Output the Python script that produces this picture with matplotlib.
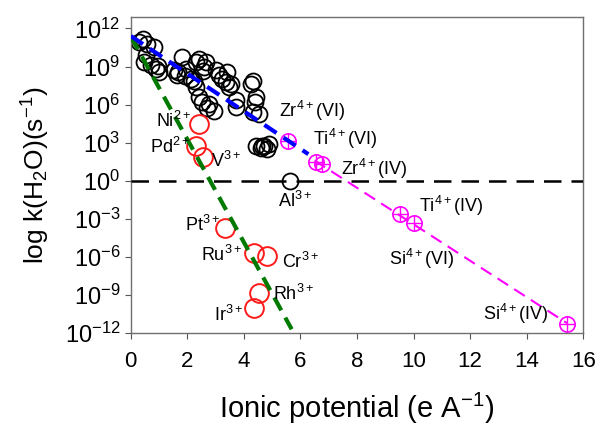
import numpy as np
import matplotlib
matplotlib.use('Agg')
import matplotlib.pyplot as plt
from matplotlib.ticker import FixedLocator, FuncFormatter, NullLocator

plt.rcParams['font.family'] = ['Liberation Sans', 'DejaVu Sans']
plt.rcParams['mathtext.fontset'] = 'custom'
plt.rcParams['mathtext.rm'] = 'Liberation Sans'
plt.rcParams['mathtext.it'] = 'Liberation Sans'
plt.rcParams['mathtext.default'] = 'regular'

# black circles: ionic potential, log10 k
black_x = [0.29, 0.59, 0.82, 0.53, 0.47, 0.71, 0.88, 1.0, 1.53, 1.65, 1.94, 2.12,
           2.30, 2.41, 2.53, 2.71, 2.65, 2.59, 3.0, 3.12, 3.24, 3.36, 3.41, 3.47,
           3.71, 4.24, 4.42, 4.53, 4.42, 4.60, 4.72, 4.89, 0.43, 0.95, 1.82, 1.68,
           1.91, 2.42, 2.32, 2.54, 3.53, 4.31, 4.38, 4.31, 3.71, 2.24, 2.77, 2.94,
           4.65, 4.83]
black_y = [10.9, 10.78, 10.5, 9.87, 9.35, 9.1, 8.8, 8.57, 8.7, 8.3, 8.83, 8.05,
           7.4, 6.6, 6.2, 5.7, 9.35, 8.96, 8.7, 8.3, 8.05, 7.8, 8.57, 7.4,
           6.37, 7.66, 6.6, 5.3, 2.76, 2.62, 2.76, 2.89, 11.17, 9.06, 9.72, 8.54,
           8.27, 9.59, 9.32, 8.67, 7.62, 7.88, 6.17, 5.38, 5.78, 7.88, 6.04, 5.52,
           2.73, 2.47]

al_x, al_y = [5.63], [0.0]

red_names = ['Ni$^{2+}$', 'Pd$^{2+}$', 'V$^{3+}$', 'Pt$^{3+}$', 'Ru$^{3+}$',
             'Cr$^{3+}$', 'Rh$^{3+}$', 'Ir$^{3+}$']
red_x = [2.42, 2.29, 2.54, 3.32, 4.35, 4.83, 4.55, 4.35]
red_y = [4.47, 2.76, 1.84, -3.68, -5.65, -5.91, -8.8, -9.98]

mag_names = ['Ti$^{4+}$(VI)', 'Zr$^{4+}$(IV)', 'Zr$^{4+}$(IV)', 'Ti$^{4+}$(IV)',
             'Si$^{4+}$(VI)', 'Si$^{4+}$(IV)']
mag_x = [5.56, 6.54, 6.76, 9.52, 10.0, 15.42]
mag_y = [3.15, 1.5, 1.36, -2.63, -3.36, -11.24]

# dashed trend lines (x ends, log10 y ends)
green_x, green_y = [0.0, 5.69], [11.37, -11.69]
blue_x, blue_y = [0.0, 6.28], [11.4, 2.1]
pink_x, pink_y = [6.5, 15.42], [1.6, -11.2]
zero_x, zero_y = [0.0, 16.0], [0.0, 0.0]

# label text and where it sits
labels = ['Zr$^{4+}$(VI)', 'Ti$^{4+}$(VI)', 'Zr$^{4+}$(IV)', 'Al$^{3+}$',
          'Ti$^{4+}$(IV)', 'Si$^{4+}$(VI)', 'Si$^{4+}$(IV)', 'Ni$^{2+}$',
          'Pd$^{2+}$', 'V$^{3+}$', 'Pt$^{3+}$', 'Ru$^{3+}$', 'Cr$^{3+}$',
          'Rh$^{3+}$', 'Ir$^{3+}$']
label_x = [5.25, 6.45, 7.43, 5.21, 10.2, 9.14, 12.47, 0.9, 0.67, 2.85, 1.9,
           2.5, 5.33, 5.04, 2.96]
label_y = [5.5, 3.3, 0.95, -1.55, -1.95, -6.15, -10.5, 4.75, 2.65, 1.6, -3.5,
           -5.85, -6.4, -8.9, -10.6]

p = lambda v: 10.0 ** np.array(v)

fig = plt.figure(figsize=(6, 4.25), dpi=100)
ax = fig.add_axes([0.218, 0.216, 0.754, 0.744])

ax.plot(black_x, p(black_y), 'o', ms=11.5, mfc='none', mec='black', mew=1.3, zorder=2)
ax.plot(al_x, p(al_y), 'o', ms=11.5, mfc='none', mec='black', mew=1.3, zorder=2)
ax.plot(red_x, p(red_y), 'o', ms=13.5, mfc='none', mec='#ff1a1a', mew=1.4, zorder=2)
ax.plot(mag_x, p(mag_y), 'o', ms=11, mfc='none', mec='#ff00ff', mew=1.2, zorder=2)
ax.plot(mag_x, p(mag_y), '+', ms=11, mec='#ff00ff', mew=1.0, zorder=2)

ax.plot(zero_x, p(zero_y), color='black', lw=1.8, dashes=(7, 4), zorder=3)
ax.plot(green_x, p(green_y), color='#007a00', lw=3, dashes=(3.5, 2), zorder=3)
ax.plot(blue_x, p(blue_y), color='#0000ff', lw=3, dashes=(3.5, 2), zorder=3)
ax.plot(pink_x, p(pink_y), color='#ff00ff', lw=1.5, dashes=(6, 3.5), zorder=3)

for t, lx, ly in zip(labels, label_x, label_y):
    ax.text(lx, 10.0 ** ly, t, fontsize=13, ha='left', va='center')

ax.set_yscale('log')
ax.set_xlim(0, 16)
ax.set_ylim(1e-12, 10 ** 12.9)
ax.set_xticks(np.arange(0, 17, 2))
ax.yaxis.set_major_locator(FixedLocator([10.0 ** k for k in range(-12, 13, 3)]))
ax.yaxis.set_minor_locator(NullLocator())
ax.yaxis.set_major_formatter(FuncFormatter(lambda v, pos: '10$^{%d}$' % round(np.log10(v))))

for s in ax.spines.values():
    s.set_color('#707070')
    s.set_linewidth(1.0)
ax.tick_params(axis='both', direction='out', length=4, color='#555555', labelsize=16)
ax.tick_params(axis='y', labelsize=17)
ax.tick_params(axis='x', pad=9)

ax.set_xlabel('Ionic potential (e A$^{-1}$)', fontsize=21, labelpad=13)
ax.set_ylabel('log k(H$_2$O)(s$^{-1}$)', fontsize=19, labelpad=9)

fig.savefig('out.png', dpi=100)
